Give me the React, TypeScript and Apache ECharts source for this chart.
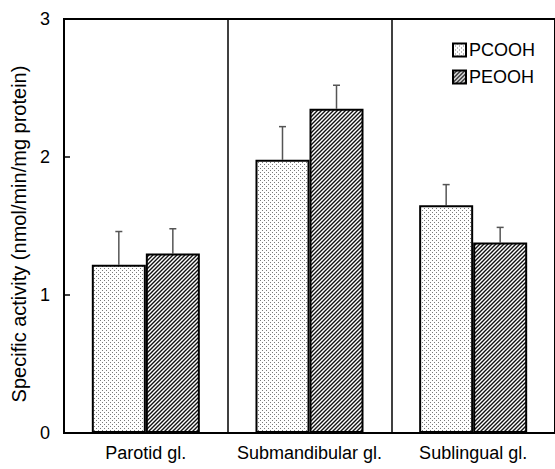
import React, { useEffect, useRef } from "react";
import * as echarts from "echarts";

const categories = ["Parotid gl.", "Submandibular gl.", "Sublingual gl."];
const seriesNames = ["PCOOH", "PEOOH"];
const pcooh = [1.22, 1.98, 1.65];
const pcoohErr = [0.24, 0.24, 0.15];
const peooh = [1.3, 2.35, 1.38];
const peoohErr = [0.18, 0.17, 0.11];
const yTicks = [0, 1, 2, 3];

function dotPattern(): string {
  const c = document.createElement("canvas");
  c.width = 4;
  c.height = 4;
  const ctx = c.getContext("2d")!;
  ctx.fillStyle = "#ffffff";
  ctx.fillRect(0, 0, 4, 4);
  ctx.fillStyle = "#7a7a7a";
  ctx.fillRect(0, 0, 1, 1);
  ctx.fillRect(2, 2, 1, 1);
  return c.toDataURL();
}

function hatchPattern(): string {
  const s = 4;
  const c = document.createElement("canvas");
  c.width = s;
  c.height = s;
  const ctx = c.getContext("2d")!;
  ctx.fillStyle = "#ffffff";
  ctx.fillRect(0, 0, s, s);
  ctx.strokeStyle = "#111111";
  ctx.lineWidth = 1.4;
  ctx.beginPath();
  ctx.moveTo(-1, s + 1);
  ctx.lineTo(s + 1, -1);
  ctx.moveTo(-1, 1);
  ctx.lineTo(1, -1);
  ctx.moveTo(s - 1, s + 1);
  ctx.lineTo(s + 1, s - 1);
  ctx.stroke();
  return c.toDataURL();
}

const BAR_FRAC = 0.33;
const FONT = "'Liberation Sans', Arial, sans-serif";

export default function App() {
  const ref = useRef<HTMLDivElement>(null);
  useEffect(() => {
    if (!ref.current) return;
    const chart = echarts.init(ref.current, null, { renderer: "svg" });
    const dots = { image: dotPattern(), repeat: "repeat" };
    const hatch = { image: hatchPattern(), repeat: "repeat" };
    const errSeries = (vals: number[], errs: number[], side: number) => ({
      type: "custom",
      z: 1,
      silent: true,
      data: vals.map((v, i) => [i, v, v + errs[i]]),
      renderItem: (params: any, api: any) => {
        const i = api.value(0);
        const base = api.coord([i, api.value(1)]);
        const top = api.coord([i, api.value(2)]);
        const w = api.size([1, 0])[0] * BAR_FRAC;
        const x = base[0] + (side * w) / 2;
        const style = { stroke: "#555555", lineWidth: 1.5 };
        return {
          type: "group",
          children: [
            { type: "line", shape: { x1: x, y1: base[1], x2: x, y2: top[1] }, style },
            { type: "line", shape: { x1: x - 3.5, y1: top[1], x2: x + 3.5, y2: top[1] }, style },
          ],
        };
      },
    });
    chart.setOption({
      animation: false,
      textStyle: { fontFamily: FONT, color: "#000" },
      grid: {
        left: 64,
        right: -3,
        top: 19,
        bottom: 36,
        show: true,
        borderColor: "#000",
        borderWidth: 2,
      },
      legend: {
        orient: "vertical",
        left: 447,
        top: 36,
        itemWidth: 13,
        itemHeight: 13,
        itemGap: 9,
        icon: "rect",
        data: seriesNames,
        textStyle: { fontSize: 18, fontFamily: FONT, color: "#000", padding: [0, 0, 0, -2] },
      },
      xAxis: {
        type: "category",
        data: categories,
        axisLine: { lineStyle: { color: "#000", width: 2 } },
        axisTick: { show: false, interval: 0 },
        splitLine: { show: true, interval: 0, lineStyle: { color: "#000", width: 1.5 } },
        axisLabel: { interval: 0, hideOverlap: false, fontSize: 18, fontFamily: FONT, color: "#000", margin: 11 },
      },
      yAxis: {
        type: "value",
        min: 0,
        max: 3,
        interval: 1,
        name: "Specific activity (nmol/min/mg protein)",
        nameLocation: "middle",
        nameGap: 33,
        nameTextStyle: { fontSize: 20, fontFamily: FONT, color: "#000", padding: [0, 0, 0, -16] },
        axisLine: { show: true, lineStyle: { color: "#000", width: 2 } },
        axisTick: { show: true, inside: true, length: 6, lineStyle: { color: "#000", width: 1.5 } },
        splitLine: { show: false },
        axisLabel: {
          fontSize: 18,
          fontFamily: FONT,
          color: "#000",
          margin: 14,
          formatter: (v: number) => (yTicks.includes(v) ? String(v) : ""),
        },
      },
      series: [
        {
          name: seriesNames[0],
          type: "bar",
          data: pcooh,
          barWidth: BAR_FRAC * 100 + "%",
          barGap: "0%",
          z: 2,
          itemStyle: { color: dots, borderColor: "#000", borderWidth: 2 },
        },
        {
          name: seriesNames[1],
          type: "bar",
          data: peooh,
          barWidth: BAR_FRAC * 100 + "%",
          barGap: "0%",
          z: 2,
          itemStyle: { color: hatch, borderColor: "#000", borderWidth: 2 },
        },
        errSeries(pcooh, pcoohErr, -1),
        errSeries(peooh, peoohErr, 1),
      ],
    });
    return () => chart.dispose();
  }, []);
  return (
    <div
      ref={ref}
      style={{ position: "fixed", left: 0, top: 0, width: 555, height: 469, background: "#fff" }}
    />
  );
}
